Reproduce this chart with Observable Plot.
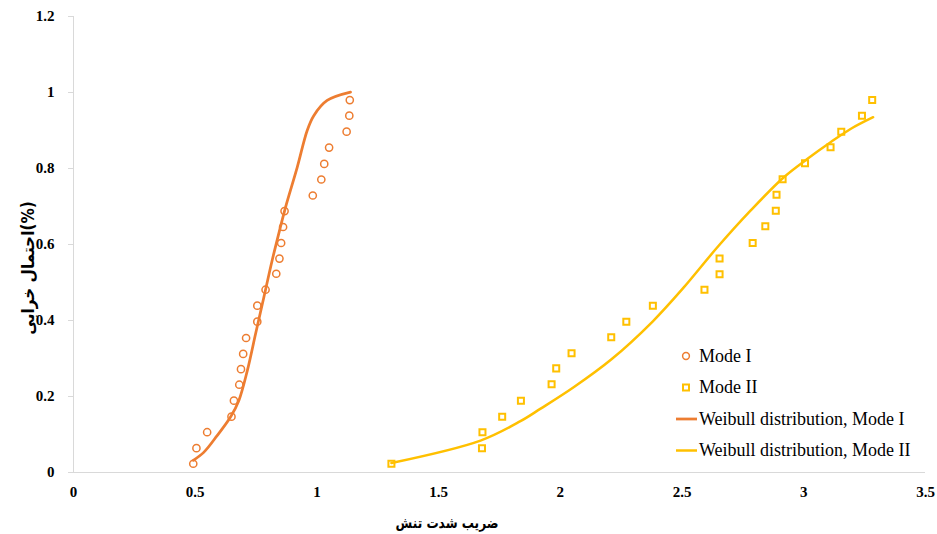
<!DOCTYPE html>
<html><head><meta charset="utf-8">
<script src="https://cdn.jsdelivr.net/npm/d3@7"></script>
<script src="https://cdn.jsdelivr.net/npm/@observablehq/plot@0.6"></script>
<style>body{margin:0;background:#fff;} #chart svg{display:block;}</style>
</head><body><div id="chart"></div>
<script>
// Mode I observed points
const mode1X = [0.492,0.505,0.549,0.649,0.659,0.681,0.688,0.697,0.709,0.755,0.755,0.789,0.833,0.846,0.853,0.861,0.867,0.983,1.018,1.030,1.050,1.122,1.133,1.135];
const mode1Y = [0.023,0.064,0.106,0.147,0.189,0.231,0.272,0.312,0.354,0.397,0.439,0.481,0.523,0.563,0.604,0.646,0.688,0.729,0.771,0.812,0.855,0.897,0.939,0.980];
// Mode II observed points
const mode2X = [1.306,1.678,1.680,1.761,1.838,1.964,1.983,2.046,2.209,2.271,2.380,2.592,2.654,2.654,2.790,2.842,2.885,2.888,2.913,3.005,3.110,3.154,3.239,3.281];
const mode2Y = [0.023,0.064,0.106,0.147,0.189,0.232,0.274,0.314,0.356,0.397,0.439,0.481,0.522,0.563,0.604,0.648,0.689,0.731,0.772,0.814,0.856,0.897,0.939,0.980];
// Weibull fits
const weib1X = [0.492,0.535,0.590,0.645,0.679,0.714,0.748,0.782,0.816,0.850,0.871,0.919,0.960,0.987,1.042,1.138];
const weib1Y = [0.032,0.053,0.097,0.146,0.189,0.268,0.365,0.461,0.558,0.646,0.698,0.803,0.900,0.939,0.979,1.001];
const weib2X = [1.306,1.672,1.836,1.919,2.056,2.210,2.380,2.507,2.644,2.781,2.918,3.014,3.110,3.192,3.285];
const weib2Y = [0.025,0.084,0.135,0.168,0.225,0.298,0.398,0.487,0.592,0.689,0.777,0.825,0.869,0.904,0.935];
const xTicks = [0,0.5,1,1.5,2,2.5,3,3.5];
const yTicks = [0,0.2,0.4,0.6,0.8,1,1.2];
const seriesNames = ["Mode I","Mode II","Weibull distribution, Mode I","Weibull distribution, Mode II"];
const xLabel = "ضریب شدت تنش";
const yLabel = "احتمال خرابی(%)";
const orange = "#ED7D31", gold = "#FFC000";

const pts1 = mode1X.map((x,i)=>({x, y:mode1Y[i]}));
const pts2 = mode2X.map((x,i)=>({x, y:mode2Y[i]}));
const ln1 = weib1X.map((x,i)=>({x, y:weib1Y[i]}));
const ln2 = weib2X.map((x,i)=>({x, y:weib2Y[i]}));

const serif = "'Liberation Serif', 'Times New Roman', serif";
const W=937,H=534, mL=73, mR=12, mT=16, mB=62;
const chart = Plot.plot({
  width:W, height:H, marginLeft:mL, marginRight:mR, marginTop:mT, marginBottom:mB,
  x:{domain:[0,3.5]}, y:{domain:[0,1.2]},
  style:{fontFamily:serif, fontSize:"15px", color:"#000", background:"#fff"},
  marks:[
    Plot.ruleY([0],{stroke:"#d9d9d9", strokeWidth:1}),
    Plot.ruleX([0],{stroke:"#d9d9d9", strokeWidth:1}),
    Plot.axisY(yTicks,{tickSize:5, tickPadding:14, tickFormat:d=>String(d), stroke:"#d9d9d9", fill:"#000", fontFamily:serif, fontWeight:"bold", fontSize:15, label:null}),
    Plot.axisX(xTicks,{tickSize:0, tickPadding:14, tickFormat:d=>String(d), fill:"#000", fontFamily:serif, fontWeight:"bold", fontSize:15, label:null}),
    Plot.line(ln1,{x:"x",y:"y",stroke:orange,strokeWidth:2.75,curve:"catmull-rom"}),
    Plot.line(ln2,{x:"x",y:"y",stroke:gold,strokeWidth:2.5,curve:"catmull-rom"}),
    Plot.dot(pts1,{x:"x",y:"y",r:3.6,stroke:orange,strokeWidth:1.5,fill:"none",symbol:"circle"}),
    Plot.dot(pts2,{x:"x",y:"y",r:3.4,stroke:gold,strokeWidth:2,fill:"none",symbol:"square"})
  ]
});
document.getElementById("chart").appendChild(chart);

const svg = d3.select(chart);
const arabicFont = "'DejaVu Sans Condensed', 'DejaVu Sans', sans-serif";
// axis titles
svg.append("text").attr("transform","translate(447,528) scale(0.9,1)").attr("text-anchor","middle")
  .attr("font-family",arabicFont).attr("font-weight","bold").attr("font-size",15)
  .attr("fill","#000").text(xLabel);
svg.append("text").attr("transform","translate(34,268) rotate(-90)").attr("text-anchor","middle")
  .attr("font-family",arabicFont).attr("font-weight","bold").attr("font-size",17)
  .attr("fill","#000").text(yLabel);

// legend
const lg = svg.append("g").attr("font-family",serif).attr("font-size",18).attr("fill","#000").attr("text-anchor","start");
const rows = [356, 387.5, 419, 450.5];
const sym = [
  g=>g.append("circle").attr("cx",686).attr("r",3.4).attr("fill","none").attr("stroke",orange).attr("stroke-width",1.5),
  g=>g.append("rect").attr("x",683).attr("y",-3).attr("width",6).attr("height",6).attr("fill","none").attr("stroke",gold).attr("stroke-width",2),
  g=>g.append("line").attr("x1",676).attr("x2",697).attr("stroke",orange).attr("stroke-width",2.75),
  g=>g.append("line").attr("x1",676).attr("x2",697).attr("stroke",gold).attr("stroke-width",2.5)
];
seriesNames.forEach((name,i)=>{
  const g = lg.append("g").attr("transform",`translate(0,${rows[i]})`);
  sym[i](g);
  g.append("text").attr("x",699).attr("dy","0.33em").text(name);
});
</script>
</body></html>
